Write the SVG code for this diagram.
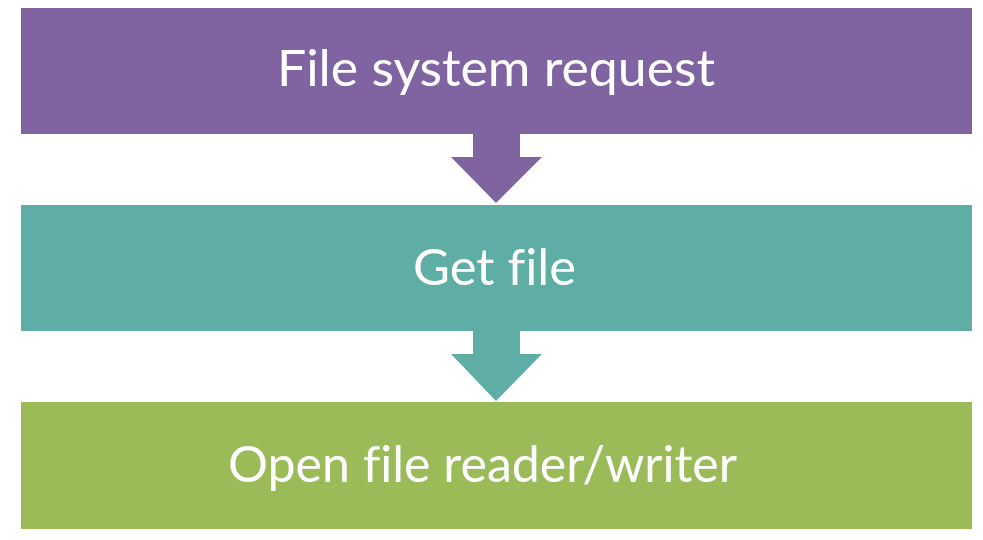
<svg xmlns="http://www.w3.org/2000/svg" width="983" height="540" viewBox="0 0 983 540">
<style>
.lbl{font-family:"Lato","Open Sans","Liberation Sans",sans-serif;font-size:50px;fill:#ffffff;font-variant-ligatures:none;font-feature-settings:"liga" 0}
</style>
<rect width="983" height="540" fill="#ffffff"/>
<g id="connectors">
<polygon points="473,134 520,134 520,157 542,157 496,203 451,157 473,157" fill="#8064A2"/>
<polygon points="473,331 520,331 520,354 542,354 496,401 451,354 473,354" fill="#5EAEA6"/>
</g>
<g id="node1">
<rect x="21" y="8" width="951" height="126" fill="#8064A2"/>
<text class="lbl" x="277" y="86" textLength="438" lengthAdjust="spacingAndGlyphs">File system request</text>
</g>
<g id="node2">
<rect x="21" y="205" width="951" height="126" fill="#5EAEA6"/>
<text class="lbl" x="413" y="285" textLength="163" lengthAdjust="spacingAndGlyphs">Get file</text>
</g>
<g id="node3">
<rect x="21" y="402" width="951" height="127" fill="#9BBB59"/>
<text class="lbl" x="228" y="482" textLength="509" lengthAdjust="spacingAndGlyphs">Open file reader/writer</text>
</g>
</svg>
